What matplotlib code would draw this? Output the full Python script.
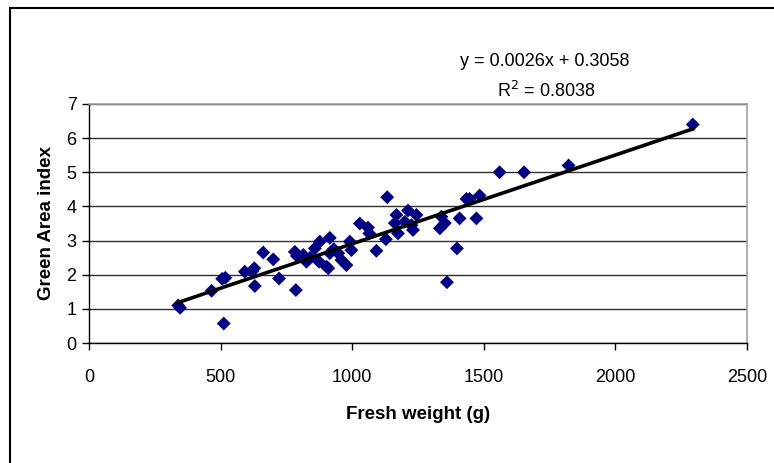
import numpy as np
import matplotlib
matplotlib.use("Agg")
import matplotlib.pyplot as plt
from matplotlib.patches import Rectangle

plt.rcParams['font.family'] = ['Liberation Sans', 'DejaVu Sans']

# fresh weight (g) and green area index
fresh_weight = [
    339, 346, 466, 506, 518, 512, 592, 620, 628, 630, 662, 700, 722,
    782, 790, 786, 814, 826, 840, 858, 877, 874, 902, 915, 915, 909,
    930, 947, 959, 978, 991, 997, 1029, 1060, 1065, 1092, 1133, 1128,
    1168, 1162, 1174, 1212, 1200, 1231, 1244, 1225, 1339, 1333, 1352,
    1360, 1398, 1408, 1434, 1446, 1472, 1484, 1560, 1653, 1822, 2294,
]
green_area = [
    1.10, 1.03, 1.53, 1.88, 1.91, 0.57, 2.09, 2.10, 2.19, 1.67, 2.65, 2.45, 1.89,
    2.67, 2.55, 1.55, 2.58, 2.38, 2.50, 2.77, 2.97, 2.38, 2.24, 3.08, 2.63, 2.19,
    2.75, 2.63, 2.43, 2.28, 2.97, 2.72, 3.50, 3.38, 3.21, 2.70, 4.27, 3.04,
    3.75, 3.51, 3.21, 3.88, 3.55, 3.31, 3.75, 3.45, 3.70, 3.36, 3.51,
    1.78, 2.77, 3.65, 4.22, 4.22, 3.65, 4.32, 5.00, 5.00, 5.20, 6.40,
]

slope = 0.0026
intercept = 0.3058
r_squared = 0.8038

fig = plt.figure(figsize=(7.74, 4.63), dpi=100)
ax = fig.add_axes([89 / 774, 120 / 463, 658 / 774, 239 / 463])

# outer chart frame
fig.patches.append(Rectangle((10 / 774, -0.02), 1.0, (463 - 8) / 463 + 0.02,
                             transform=fig.transFigure, fill=False,
                             edgecolor='black', linewidth=1.5))

ax.scatter(fresh_weight, green_area, marker='D', s=50, color='#000080',
           edgecolors='none', zorder=3)

xs = np.array([min(fresh_weight), max(fresh_weight)])
ax.plot(xs, slope * xs + intercept, color='black', linewidth=2.6, zorder=4)

ax.set_xlim(0, 2500)
ax.set_ylim(0, 7)
ax.set_xticks(range(0, 2501, 500))
ax.set_yticks(range(0, 8))
ax.yaxis.grid(True, color='#303030', linewidth=1.0)
ax.set_axisbelow(True)

for side in ('top', 'right'):
    ax.spines[side].set_color('#a0a0a0')
    ax.spines[side].set_linewidth(1.2)
for side in ('left', 'bottom'):
    ax.spines[side].set_color('black')
    ax.spines[side].set_linewidth(1.0)

ax.tick_params(axis='both', direction='out', length=5, width=1, labelsize=13)
ax.tick_params(axis='x', pad=14)
ax.tick_params(axis='y', pad=4)

ax.set_xlabel('Fresh weight (g)', fontsize=13.5, fontweight='bold', labelpad=14)
ax.set_ylabel('Green Area index', fontsize=13.5, fontweight='bold', labelpad=8)

fig.text(545 / 774, 1 - 61 / 463, 'y = 0.0026x + 0.3058', ha='center', va='center',
         fontsize=13)
fig.text(546 / 774, 1 - 91 / 463, 'R$^2$ = %.4f' % r_squared, ha='center', va='center',
         fontsize=13)

fig.savefig('out.png', dpi=100)
